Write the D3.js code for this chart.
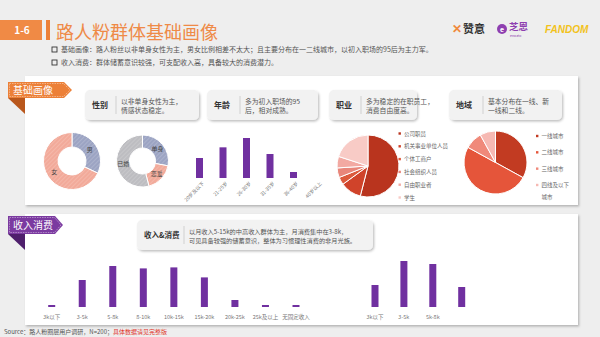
<!DOCTYPE html>
<html>
<head>
<meta charset="utf-8">
<script src="https://cdn.jsdelivr.net/npm/d3@7"></script>
<style>
  body { margin: 0; background: #eeeeee; }
  svg { display: block; font-family: "Noto Sans CJK SC", "Noto Sans", sans-serif; }
</style>
</head>
<body>
<svg id="chart" width="600" height="337"></svg>
<script>
// ---- data ----
var genderLabels = ["男", "女"];
var genderValues = [32, 68];

var maritalLabels = ["单身", "恋爱", "已婚"];
var maritalValues = [28, 18, 54];

var ageLabels = ["20岁及以下", "21-25岁", "26-30岁", "31-35岁", "36-40岁", "40岁以上"];
var ageValues = [15, 23, 30, 18, 4.5, 0];

var jobLabels = ["公司职员", "机关事业单位人员", "个体工商户", "社会组织人员", "自由职业者", "学生"];
var jobValues = [54, 11, 4, 5, 6, 20];

var cityLabels = ["一线城市", "二线城市", "三线城市", "四线及以下城市"];
var cityValues = [33, 50, 9, 8];

var incomeLabels = ["3k以下", "3-5k", "5-8k", "8-10k", "10k-15k", "15k-20k", "20k-25k", "25k及以上", "无固定收入"];
var incomeValues = [1, 13.5, 20.5, 19.3, 19.8, 14.8, 3.5, 1, 1];

var spendKeys = ["a", "b", "c", "d"];
var spendLabels = ["3k以下", "3-5k", "5k-8k", ""];
var spendValues = [11, 23, 21.5, 10];

var bullets = [
  "基础画像：路人粉丝以非单身女性为主，男女比例相差不太大；且主要分布在一二线城市，以初入职场的95后为主力军。",
  "收入消费：群体储蓄意识较强，可支配收入高，具备较大的消费潜力。"
];

var svg = d3.select("#chart");
var purple = "#7030a0";

// filters / patterns
var defs = svg.append("defs");
var sh = defs.append("filter").attr("id", "shadow").attr("x", "-10%").attr("y", "-10%").attr("width", "130%").attr("height", "150%");
sh.append("feDropShadow").attr("dx", 1.2).attr("dy", 1.5).attr("stdDeviation", 1.2).attr("flood-color", "#000").attr("flood-opacity", 0.25);

function hatch(id, color) {
  var p = defs.append("pattern").attr("id", id).attr("patternUnits", "userSpaceOnUse")
    .attr("width", 3).attr("height", 3).attr("patternTransform", "rotate(45)");
  p.append("rect").attr("width", 3).attr("height", 3).attr("fill", color);
  p.append("line").attr("x1", 0).attr("y1", 0).attr("x2", 0).attr("y2", 3)
    .attr("stroke", "#fff").attr("stroke-opacity", 0.3).attr("stroke-width", 1);
  return "url(#" + id + ")";
}
var hBlue = hatch("hb", "#9ca4c3"), hPink = hatch("hp", "#f2aa9a"), hGray = hatch("hg", "#bdbdc1");

// ---- header ----
svg.append("rect").attr("x", 0).attr("y", 20).attr("width", 42).attr("height", 20).attr("fill", "#f08a45");
svg.append("text").attr("x", 22).attr("y", 34).attr("text-anchor", "middle")
  .attr("fill", "#fff").attr("font-size", 10).attr("font-weight", "bold").text("1-6");
svg.append("rect").attr("x", 46).attr("y", 20).attr("width", 4).attr("height", 20).attr("fill", "#ec8038");
svg.append("text").attr("x", 56).attr("y", 39).attr("fill", "#ef8a47").attr("font-size", 18).text("路人粉群体基础画像");

// logos
svg.append("text").attr("x", 452).attr("y", 33).attr("fill", "#f08a3c").attr("font-size", 12).attr("font-weight", "bold").text("✕");
svg.append("text").attr("x", 463).attr("y", 33).attr("fill", "#333").attr("font-size", 11).attr("font-weight", "bold").text("赞意");
svg.append("circle").attr("cx", 502).attr("cy", 29).attr("r", 5).attr("fill", "#8e3fb0");
svg.append("text").attr("x", 502).attr("y", 31.5).attr("text-anchor", "middle").attr("fill", "#fff").attr("font-size", 7).attr("font-weight", "bold").text("e");
svg.append("text").attr("x", 509).attr("y", 30).attr("fill", "#8e3fb0").attr("font-size", 9.5).attr("font-weight", "bold").text("芝恩");
svg.append("text").attr("x", 510).attr("y", 37).attr("fill", "#8e3fb0").attr("font-size", 3.5).text("enoato");
svg.append("text").attr("x", 545).attr("y", 33).attr("fill", "#f2c21c").attr("font-size", 10)
  .attr("font-weight", "bold").attr("font-style", "italic").attr("font-family", "Liberation Sans").text("FANDOM");

// bullets
bullets.forEach(function (b, i) {
  var y = 52 + i * 13;
  svg.append("rect").attr("x", 52).attr("y", y - 5).attr("width", 5).attr("height", 5)
    .attr("fill", "none").attr("stroke", "#333").attr("stroke-width", 0.9);
  svg.append("text").attr("x", 61).attr("y", y).attr("fill", "#555").attr("font-size", 7).text(b);
});

// ---- panels ----
svg.append("rect").attr("x", 25).attr("y", 76).attr("width", 553).attr("height", 129).attr("fill", "#fff").attr("filter", "url(#shadow)");
svg.append("rect").attr("x", 25).attr("y", 214).attr("width", 553).attr("height", 111).attr("fill", "#fff").attr("filter", "url(#shadow)");

function tag(x, y, w, h, color, dark, label) {
  svg.append("path").attr("d", "M" + x + "," + (y + h) + "L25," + (y + h) + "L25," + (y + h + 16) + "Z").attr("fill", dark);
  svg.append("path").attr("d", "M" + x + "," + y + "h" + (w - 8) + "l8," + (h / 2) + "l-8," + (h / 2) + "h" + (-(w - 8)) + "Z")
    .attr("fill", color);
  svg.append("path").attr("d", "M" + (x + 1.5) + "," + (y + 1.5) + "h" + (w - 10) + "l6.5," + (h / 2 - 1.5) + "l-6.5," + (h / 2 - 1.5) + "h" + (-(w - 10)) + "Z")
    .attr("fill", "none").attr("stroke", "#fff").attr("stroke-width", 0.5).attr("stroke-dasharray", "1.5,1").attr("stroke-opacity", 0.8);
  svg.append("text").attr("x", x + 5).attr("y", y + h / 2 + 3.6).attr("fill", "#fff").attr("font-size", 10).text(label);
}
tag(8, 82, 64, 16, "#ec8038", "#b9571c", "基础画像");
tag(8, 216, 55, 18, "#7b3aa0", "#4e1f6c", "收入消费");

// cards
function card(x, y, w, h, title, lines, fs, divX, tfs) {
  svg.append("rect").attr("x", x).attr("y", y).attr("width", w).attr("height", h).attr("rx", 5)
    .attr("fill", "#f2f2f2").attr("filter", "url(#shadow)");
  svg.append("text").attr("x", x + 7).attr("y", y + h / 2 + 3).attr("fill", "#333").attr("font-size", tfs || 8).attr("font-weight", "bold").text(title);
  svg.append("line").attr("x1", divX).attr("x2", divX).attr("y1", y + 6).attr("y2", y + h - 6).attr("stroke", "#bbb").attr("stroke-width", 0.6);
  lines.forEach(function (l, i) {
    svg.append("text").attr("x", divX + 5).attr("y", y + h / 2 - 1.5 + i * 9.5).attr("fill", "#555").attr("font-size", fs).text(l);
  });
}
card(85, 90, 114, 30, "性别", ["以非单身女性为主，", "情感状态稳定。"], 6.8, 116);
card(207, 90, 111, 30, "年龄", ["多为初入职场的95", "后，相对成熟。"], 6.8, 240);
card(329, 90, 88, 30, "职业", ["多为稳定的在职员工，", "消费自由度高。"], 6.8, 361);
card(449, 90, 113, 30, "地域", ["基本分布在一线、新", "一线和二线。"], 6.8, 483);
card(137, 220, 236, 30, "收入&消费", ["以月收入5-15k的中高收入群体为主，月消费集中在3-8k，", "可见具备较强的储蓄意识，整体为习惯理性消费的非月光族。"], 6.2, 184, 7.5);

// ---- pies ----
function drawPie(values, labels, fills, cx, cy, ro, ri, inLabels, lr) {
  var pie = d3.pie().sort(null).value(function (d) { return d; });
  var arc = d3.arc().outerRadius(ro).innerRadius(ri);
  var lab = d3.arc().outerRadius(lr).innerRadius(lr);
  var g = svg.append("g").attr("transform", "translate(" + cx + "," + cy + ")");
  var arcs = pie(values);
  g.selectAll("path").data(arcs).enter().append("path")
    .attr("d", arc).attr("fill", function (d, i) { return fills[i]; })
    .attr("stroke", "#fff").attr("stroke-width", 1);
  if (inLabels) {
    g.selectAll("text").data(arcs).enter().append("text")
      .attr("transform", function (d) { return "translate(" + lab.centroid(d) + ")"; })
      .attr("text-anchor", "middle").attr("dy", "0.35em")
      .attr("fill", "#444").attr("font-size", 6)
      .text(function (d, i) { return labels[i]; });
  }
}
drawPie(genderValues, genderLabels, [hBlue, hPink], 72, 161, 28.5, 14, true, 21);
drawPie(maritalValues, maritalLabels, [hBlue, hPink, hGray], 142.5, 161, 26, 13, true, 19.5);

var jobColors = ["#b9341e", "#d0432a", "#dc5a3c", "#e8867a", "#f2a9a2", "#f8cbc6"];
drawPie(jobValues, jobLabels, jobColors, 368, 166, 31, 0, false);
var cityColors = ["#c23b22", "#e5553a", "#f0897a", "#f6b9b3"];
drawPie(cityValues, cityLabels, cityColors, 495.5, 162.5, 31.5, 0, false);

// legends
var jobY = d3.scalePoint().domain(jobLabels).range([133.5, 197.5]);
jobLabels.forEach(function (l, i) {
  svg.append("rect").attr("x", 398.5).attr("y", jobY(l) - 1.2).attr("width", 2.4).attr("height", 2.4).attr("fill", jobColors[i]);
  svg.append("text").attr("x", 404).attr("y", jobY(l) + 2).attr("fill", "#666").attr("font-size", 5.5).text(l);
});
var cityY = d3.scalePoint().domain(cityLabels).range([136, 185]);
cityLabels.forEach(function (l, i) {
  svg.append("rect").attr("x", 536).attr("y", cityY(l) - 1.2).attr("width", 2.4).attr("height", 2.4).attr("fill", cityColors[i]);
  var t = svg.append("text").attr("x", 541.5).attr("y", cityY(l) + 2).attr("fill", "#666").attr("font-size", 5.5);
  if (l.length > 4) {
    t.text(l.slice(0, 5));
    svg.append("text").attr("x", 541.5).attr("y", cityY(l) + 14).attr("fill", "#666").attr("font-size", 5.5).text(l.slice(5));
  } else t.text(l);
});

// ---- bar charts ----
function drawBars(keys, values, labels, x0, x1, base, pxPerUnit, rotate) {
  var x = d3.scalePoint().domain(keys).range([x0, x1]);
  var y = d3.scaleLinear().domain([0, 1]).range([base, base - pxPerUnit]);
  var g = svg.append("g");
  g.selectAll("rect").data(values).enter().append("rect")
    .attr("x", function (d, i) { return x(keys[i]) - 3.5; })
    .attr("width", 7)
    .attr("y", function (d) { return y(d); })
    .attr("height", function (d) { return base - y(d); })
    .attr("fill", purple);
  labels.forEach(function (l, i) {
    var t = g.append("text").attr("fill", "#777").text(l);
    if (rotate) {
      t.attr("font-size", 5).attr("text-anchor", "end")
        .attr("transform", "translate(" + (x(keys[i]) + 5) + "," + (base + 6) + ") rotate(-45)");
    } else {
      t.attr("font-size", 5.5).attr("text-anchor", "middle")
        .attr("x", x(keys[i])).attr("y", base + 11.5);
    }
  });
}
drawBars(ageLabels, ageValues, ageLabels, 199.5, 317, 178, 40 / 30, true);
drawBars(incomeLabels, incomeValues, incomeLabels, 51.7, 296, 307, 2, false);
drawBars(spendKeys, spendValues, spendLabels, 375, 461.7, 307, 2, false);

// ---- footer ----
var ft = svg.append("text").attr("x", 4).attr("y", 334).attr("font-size", 6);
ft.append("tspan").attr("fill", "#555").text("Source：路人粉圈层用户调研，N=200；");
ft.append("tspan").attr("fill", "#e0332a").text("具体数据请见完整版");
</script>
</body>
</html>
